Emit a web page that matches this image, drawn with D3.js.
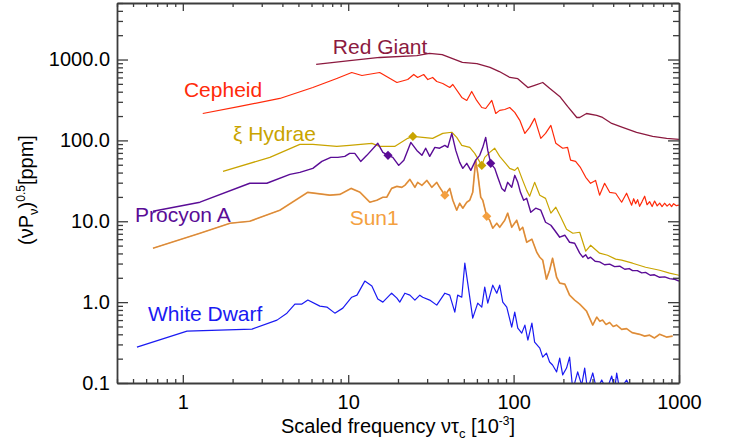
<!DOCTYPE html>
<html><head><meta charset="utf-8">
<script src="https://cdn.jsdelivr.net/npm/d3@7"></script>
<style>body{margin:0;background:#fff;} svg{display:block;font-family:"Liberation Sans",Arial,Helvetica,sans-serif;}</style>
</head><body><svg id="c" width="732" height="445"></svg>
<script>
// ---- data (scaled frequency [1e-3], amplitude [ppm]) ----
const redGiantFreq = [6.4,10.2,15.5,26,31,37,49,60,72,82,95,106,122,134,150,165,190,212,241,251,276,318,345,392,456,554,693,842,1000];
const redGiantPpm  = [870,970,1060,1120,1190,1150,920,890,800,710,600,580,450,480,520,440,350,263,192,192,215,204,192,162,145,126,112,106,103];

const cepheidFreq = [1.32,2.21,3.86,6.11,8.53,10.5,12.1,15.5,19.7,22.9,24.9,26.3,28.6,30.3,32.4,34.3,37.3,41.1,42.9,48.6,52.1,55.8,59.8,64.2,67.8,73.8,78,82.4,88.4,94.7,101.6,109,117,125,134,146,156,168,180,198,212,221,237,254,273,292,313,331,355,381,414,450,482,517,532,547,562,578,598,620,641,664,688,712,738,764,790,818,847,877,902,928,964,1000];
const cepheidPpm  = [215,263,330,451,583,691,635,691,520,566,653,600,653,566,600,535,505,451,491,340,312,403,312,255,248,312,215,235,241,255,222,177,122,145,187,106,122,153,92,80,82,57,55,46,35,29.5,32,21,29.5,22.8,22.2,17.2,22.2,15.8,19,16.5,18.5,15.3,17.5,20.4,16,17.5,15.2,17.8,15.5,16.8,15.2,16.7,15.4,16.4,15.2,16.5,15.6,15.8];

const hydraeFreq = [1.75,3.36,5.10,6.11,8.53,10.2,13.9,15.5,19.1,22.9,24.6,28.2,32.4,37.3,42.3,45.3,48.6,54.3,58.2,61.5,64.2,66.9,71.7,76.9,82.4,88.4,94.7,101.6,106,113.5,120,125,134,144,156,168,180,193,209,228,251,273,292,331,370,414,450,524,628,764,877,1000];
const hydraePpm  = [41.4,61.7,89.3,89.3,84.3,86.8,92,84.3,84.3,106,112,109,106,122,126,109,86.8,82,69.1,57,49.1,61.7,71.1,80,63.5,53.5,45.1,42.6,46.4,32,24.1,20.4,30.3,21,19.2,12.6,14.9,11.2,7.97,7.11,7.31,4.26,5.05,4.03,3.80,3.40,3.30,3.03,2.70,2.48,2.28,2.15];

const procyonFreq = [0.66,1.27,2.54,3.22,4.44,5.10,6.11,6.93,7.85,8.66,9.54,10.2,10.96,11.9,12.96,15.1,16.2,17.4,18.6,20.2,21.7,23.9,26.0,27.9,29.4,31.1,33.4,35.7,38.4,40.0,42.3,44.7,47.2,49.3,52.1,55.1,59.0,62.4,65.1,67.8,69.8,72.7,76.9,80.2,84.8,88.4,92.1,97.4,101.6,106,110,115,120,127,136,146,156,168,177,190,204,218,234,251,262,273,282,292,311,331,355,381,408,438,470,500,524,560,595,628,670,710,764,820,877,935,1000];
const procyonPpm  = [13.3,17.2,29.5,29.5,38.0,40.3,45.1,55,61.7,61.7,63.5,69.1,69.1,55,65.3,92,71.1,65.3,61.7,49.1,57,94.5,75.2,65.3,80,63.5,82,80,86.8,82,122,75.2,53.5,45.1,52,42.6,57,65.3,82,109,75.2,52,45.1,35,25.5,23.5,30.3,26.3,37.0,30.3,22.8,18.2,19.2,12.9,14.5,13.7,9.72,8.93,7.74,6.35,6.72,5.50,5.35,4.03,3.6,3.85,3.45,3.6,3.2,3.15,2.9,2.95,2.75,2.78,2.55,2.6,2.45,2.45,2.3,2.33,2.15,2.18,2.03,2.05,1.95,1.92,1.82];

const sunFreq = [0.66,1.27,1.93,2.54,3.86,5.70,7.74,8.90,10.4,11.8,13.5,14.9,16.2,17.1,18.3,19.7,21.1,22.0,23.6,25.3,26.3,27.9,29.9,32.0,34.3,35.7,38.4,41.1,42.9,45.3,47.2,49.3,52.1,54.3,56.6,59.0,60.7,63.3,65.1,68.8,71.7,74.8,79.1,82.4,88.4,92.1,97.4,104.4,109,113.5,120,129,138,144,150,158,165,172,182,190,204,218,234,251,276,301,318,332,345,362,381,400,420,450,482,520,578,620,664,710,764,840,915];
const sunPpm  = [4.64,7.11,9.45,10.0,13.7,22.8,21,21.5,25.5,22.8,17.2,18.2,19.8,19.8,25.5,27.0,26.3,27.8,33.0,26.3,30.3,27.8,32,26.3,30.3,26.3,21,25.5,18.2,13.7,16.7,14.5,17.2,18.2,22.8,57,39.1,19.8,18.2,11.5,10.3,8.20,9.45,8.43,10.3,12.6,8.43,10.3,7.74,8.43,5.50,6.00,4.14,3.59,3.30,1.92,2.48,3.49,2.03,1.72,1.67,1.22,1.06,0.945,0.774,0.52,0.653,0.58,0.6,0.53,0.56,0.5,0.52,0.46,0.47,0.42,0.40,0.38,0.39,0.36,0.40,0.37,0.38];

const dwarfFreq = [0.528,1.06,2.62,3.71,4.26,4.76,5.25,5.70,6.74,7.43,8.30,9.28,10.5,11.3,12.6,13.9,15.1,16.2,18.3,19.7,20.5,22.0,23.6,25.3,27.1,28.2,31.1,34.3,38.4,41.1,44.1,45.9,48.6,50.7,52.8,56.6,60.7,64.2,66.9,69.8,74.8,79.1,82.4,86.0,90.9,97.4,101.6,106,112,117,122,129,134,144,150,158,165,172,182,190,198,209,218,228,244,258,269,280,301,318,341,365,392,408,420,438,482,517];
const dwarfPpm  = [0.278,0.438,0.464,0.599,0.731,0.945,0.945,1.06,0.892,0.868,0.731,0.843,1.15,1.22,1.82,1.58,1.09,1.0,1.29,1.12,1.0,1.29,1.22,1.06,1.22,1.15,1.06,0.918,1.29,1.22,0.752,1.22,1.15,3.03,1.72,0.635,0.972,0.868,1.53,0.972,1.62,1.29,1.62,1.0,0.868,0.491,0.752,0.478,0.414,0.52,0.340,0.550,0.321,0.270,0.209,0.234,0.182,0.167,0.137,0.203,0.126,0.153,0.209,0.082,0.137,0.094,0.153,0.082,0.133,0.082,0.109,0.082,0.122,0.082,0.133,0.082,0.109,0.082];

// highlighted modes (diamonds)
const hydraeMarkFreq = [24.6,64.2],  hydraeMarkPpm = [112,49.1];
const procyonMarkFreq = [17.4,72.7], procyonMarkPpm = [65.3,52];
const sunMarkFreq = [38.4,68.8],     sunMarkPpm = [21,11.5];

// axis ticks
const xMajor = [1,10,100,1000];
const xTickLabels = ["1","10","100","1000"];
const yMajor = [0.1,1,10,100,1000];
const yTickLabels = ["0.1","1.0","10.0","100.0","1000.0"];

// series labels: [text, freq anchor, ppm anchor (baseline)]
const labelText = ["Red Giant","Cepheid","\u03BE Hydrae","Procyon A","Sun1","White Dwarf"];
const labelFreq = [8.07,1.016,2.01,0.514,10.2,0.616];
const labelPpm  = [1186,340,97.2,9.72,8.93,0.582];

// ---- drawing ----
const m = {l:117, r:679, t:3, b:383};
const svg = d3.select("#c");
const x = d3.scaleLog().domain([0.4,1000]).range([m.l,m.r]);
const y = d3.scaleLog().domain([0.1,5000]).range([m.b,m.t]);

const colors = {
  red:"#8c1a40", ceph:"#ff2a0a", hyd:"#c9a400", pro:"#5a0c96", sun:"#f4a040", sunDark:"#c98040", wd:"#1a1af2"
};

svg.append("defs").append("clipPath").attr("id","clip")
  .append("rect").attr("x",m.l).attr("y",m.t).attr("width",m.r-m.l).attr("height",m.b-m.t);

const line = d3.line().x(d=>x(d[0])).y(d=>y(d[1]));
const zip = (a,b)=>a.map((v,i)=>[v,b[i]]);
const plot = svg.append("g").attr("clip-path","url(#clip)");

function addLine(fx, py, color, w){
  plot.append("path").datum(zip(fx,py)).attr("d",line).attr("fill","none")
    .attr("stroke",color).attr("stroke-width",w).attr("stroke-linejoin","round");
}
addLine(redGiantFreq, redGiantPpm, colors.red, 1.3);
addLine(cepheidFreq, cepheidPpm, colors.ceph, 1.2);
addLine(dwarfFreq, dwarfPpm, colors.wd, 1.2);
addLine(sunFreq, sunPpm, colors.sun, 1.7);
addLine(sunFreq, sunPpm, colors.sunDark, 0.8);
addLine(hydraeFreq, hydraePpm, colors.hyd, 1.2);
addLine(procyonFreq, procyonPpm, colors.pro, 1.4);

function addMarks(fx, py, color){
  plot.selectAll(null).data(zip(fx,py)).enter().append("path")
    .attr("d", d3.symbol().type(d3.symbolSquare).size(42))
    .attr("transform", d=>`translate(${x(d[0])},${y(d[1])}) rotate(45)`)
    .attr("fill", color);
}
addMarks(hydraeMarkFreq, hydraeMarkPpm, colors.hyd);
addMarks(procyonMarkFreq, procyonMarkPpm, colors.pro);
addMarks(sunMarkFreq, sunMarkPpm, colors.sun);

// labels
const labelColors = [colors.red, colors.ceph, colors.hyd, colors.pro, colors.sun, colors.wd];
svg.selectAll(".lab").data(labelText).enter().append("text")
  .attr("x",(d,i)=>x(labelFreq[i])).attr("y",(d,i)=>y(labelPpm[i]))
  .attr("fill",(d,i)=>labelColors[i]).attr("font-size",21).text(d=>d);

// axes
const axisColor = "#3c3c3c";
function minorVals(lo, hi){
  const out=[];
  for(let e=-2;e<=4;e++) for(let k=2;k<=9;k++){const v=k*Math.pow(10,e); if(v>=lo*0.999&&v<=hi*1.001) out.push(v);}
  return out;
}
const xMinor = minorVals(0.4,1000), yMinor = minorVals(0.1,5000);
function style(g, keepDomain){
  if(!keepDomain) g.select(".domain").remove();
  else g.select(".domain").attr("stroke",axisColor).attr("stroke-width",1.8);
  g.selectAll(".tick line").attr("stroke",axisColor).attr("stroke-width",1.3);
  g.selectAll(".tick text").attr("font-size",20).attr("fill","#000").attr("font-family","Liberation Sans, Arial, sans-serif");
}
svg.append("g").attr("transform",`translate(${m.l},0)`)
  .call(d3.axisLeft(y).tickValues(yMajor).tickFormat((d,i)=>yTickLabels[i]).tickSizeInner(-11).tickSizeOuter(0).tickPadding(7)).call(g=>style(g,true));
svg.append("g").attr("transform",`translate(${m.l},0)`)
  .call(d3.axisLeft(y).tickValues(yMinor).tickFormat("").tickSize(-6)).call(g=>style(g,false));
svg.append("g").attr("transform",`translate(${m.r},0)`)
  .call(d3.axisRight(y).tickValues(yMajor).tickFormat("").tickSizeInner(-11).tickSizeOuter(0)).call(g=>style(g,true));
svg.append("g").attr("transform",`translate(${m.r},0)`)
  .call(d3.axisRight(y).tickValues(yMinor).tickFormat("").tickSize(-6)).call(g=>style(g,false));
svg.append("g").attr("transform",`translate(0,${m.b})`)
  .call(d3.axisBottom(x).tickValues(xMajor).tickFormat((d,i)=>xTickLabels[i]).tickSizeInner(-8).tickSizeOuter(0).tickPadding(12)).call(g=>style(g,true));
svg.append("g").attr("transform",`translate(0,${m.b})`)
  .call(d3.axisBottom(x).tickValues(xMinor).tickFormat("").tickSize(-4)).call(g=>style(g,false));
svg.append("g").attr("transform",`translate(0,${m.t})`)
  .call(d3.axisTop(x).tickValues(xMajor).tickFormat("").tickSizeInner(-8).tickSizeOuter(0)).call(g=>style(g,true));
svg.append("g").attr("transform",`translate(0,${m.t})`)
  .call(d3.axisTop(x).tickValues(xMinor).tickFormat("").tickSize(-4)).call(g=>style(g,false));

// axis titles
const xt = svg.append("text").attr("x",(m.l+m.r)/2).attr("y",433).attr("text-anchor","middle").attr("font-size",20).attr("fill","#000");
xt.append("tspan").text("Scaled frequency \u03BD\u03C4");
xt.append("tspan").attr("font-size",13).attr("dy",5).text("c");
xt.append("tspan").attr("dy",-5).text(" [10");
xt.append("tspan").attr("font-size",12).attr("dy",-8).text("-3");
xt.append("tspan").attr("dy",8).text("]");

const yt = svg.append("text").attr("transform","translate(33,190) rotate(-90)").attr("text-anchor","middle").attr("font-size",20).attr("fill","#000");
yt.append("tspan").text("(\u03BDP");
yt.append("tspan").attr("font-size",13).attr("dy",5).text("\u03BD");
yt.append("tspan").attr("dy",-5).text(")");
yt.append("tspan").attr("font-size",12).attr("dy",-8).text("0.5");
yt.append("tspan").attr("dy",8).text("[ppm]");
</script></body></html>
